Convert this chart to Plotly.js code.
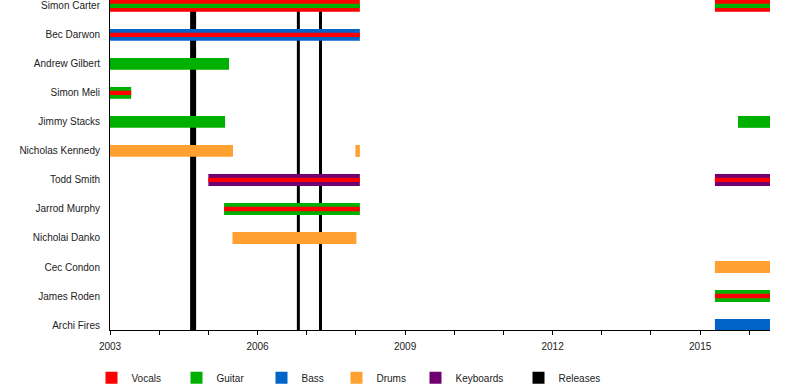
<!DOCTYPE html>
<html>
<head>
<meta charset="utf-8">
<script src="https://cdn.plot.ly/plotly-3.0.1.min.js"></script>
<style>html,body{margin:0;padding:0;background:#fff;}#chart{width:800px;height:390px;}</style>
</head>
<body>
<div id="chart"></div>
<script>
// Members, top to bottom
const members = ["Simon Carter", "Bec Darwon", "Andrew Gilbert", "Simon Meli", "Jimmy Stacks",
  "Nicholas Kennedy", "Todd Smith", "Jarrod Murphy", "Nicholai Danko", "Cec Condon",
  "James Roden", "Archi Fires"];

// Stints (decimal years)
const stintMember = ["Simon Carter", "Simon Carter", "Bec Darwon", "Andrew Gilbert", "Simon Meli",
  "Jimmy Stacks", "Jimmy Stacks", "Nicholas Kennedy", "Nicholas Kennedy", "Todd Smith", "Todd Smith",
  "Jarrod Murphy", "Nicholai Danko", "Cec Condon", "James Roden", "Archi Fires"];
const stintStart = [2003.0, 2015.3, 2003.0, 2003.0, 2003.0, 2003.0, 2015.77, 2003.0, 2007.99,
  2005.0, 2015.3, 2005.32, 2005.49, 2015.3, 2015.3, 2015.3];
const stintEnd = [2008.08, 2016.42, 2008.08, 2005.42, 2003.43, 2005.34, 2016.42, 2005.5, 2008.08,
  2008.08, 2016.42, 2008.08, 2008.01, 2016.42, 2016.42, 2016.42];
const stintMain = ["Vocals", "Vocals", "Bass", "Guitar", "Guitar", "Guitar", "Guitar", "Drums", "Drums",
  "Keyboards", "Keyboards", "Guitar", "Drums", "Drums", "Guitar", "Bass"];
const stintStripe = ["Guitar", "Guitar", "Vocals", null, "Vocals", null, null, null, null,
  "Vocals", "Vocals", "Vocals", null, null, "Vocals", null];

// Roles and colours
const roles = ["Vocals", "Guitar", "Bass", "Drums", "Keyboards"];
const roleColors = ["#FF0000", "#00B000", "#0064C8", "#FFA030", "#700070"];

// Release dates
const releases = [2004.69, 2006.83, 2007.28];
const releaseWidths = [6, 3, 3];

const xStart = 2003, xEnd = 2016.42;

// legend item left edges (pixels) – layout only
const legendLeftPx = [91.5, 176.5, 261.5, 336.5, 415.5, 518.5];
const plotLeft = 110, plotWidth = 660;
const legendKey = i => (i === 0 ? 'legend' : 'legend' + (i + 1));

const traces = [];
// outer bars
roles.forEach((r, ri) => {
  const y = [], base = [], x = [];
  stintMember.forEach((m, i) => {
    if (stintMain[i] === r) { y.push(m); base.push(stintStart[i]); x.push(stintEnd[i] - stintStart[i]); }
  });
  if (y.length === 0) { y.push(null); base.push(null); x.push(null); }
  traces.push({type: 'bar', orientation: 'h', y: y, x: x, base: base, width: 0.41,
    name: r, legendgroup: r, legend: legendKey(ri),
    marker: {color: roleColors[ri], line: {width: 0}}, hoverinfo: 'skip'});
});
// stripes
roles.forEach((r, ri) => {
  const y = [], base = [], x = [];
  stintMember.forEach((m, i) => {
    if (stintStripe[i] === r) { y.push(m); base.push(stintStart[i]); x.push(stintEnd[i] - stintStart[i]); }
  });
  if (y.length) {
    traces.push({type: 'bar', orientation: 'h', y: y, x: x, base: base, width: 0.15,
      name: r, legendgroup: r, showlegend: false,
      marker: {color: roleColors[ri], line: {width: 0}}, hoverinfo: 'skip'});
  }
});
// Releases legend entry
traces.push({type: 'bar', orientation: 'h', y: [null], x: [null], name: 'Releases', legend: legendKey(5),
  marker: {color: '#000000', line: {width: 0}}, showlegend: true});

const shapes = releases.map((d, i) => ({type: 'line', xref: 'x', yref: 'paper', x0: d, x1: d, y0: 0, y1: 1,
  line: {color: '#000000', width: releaseWidths[i]}, layer: 'below'}));

const layout = {
  width: 800, height: 390,
  margin: {l: 110, r: 30, t: 0, b: 60, autoexpand: false},
  paper_bgcolor: '#ffffff', plot_bgcolor: '#ffffff',
  font: {family: '"Liberation Sans", Arial, sans-serif', size: 10, color: '#222'},
  barmode: 'overlay',
  showlegend: true,
  xaxis: {range: [xStart, xEnd], tickmode: 'linear', tick0: 2003, dtick: 3, showgrid: false, zeroline: false,
    showline: true, linecolor: '#000', linewidth: 1, ticks: 'outside', ticklen: 4, tickcolor: '#000',
    ticklabelstandoff: 3,
    minor: {tickmode: 'linear', tick0: 2003, dtick: 1, ticks: 'outside', ticklen: 4, tickcolor: '#000', showgrid: false},
    fixedrange: true},
  yaxis: {type: 'category', categoryorder: 'array', categoryarray: members.slice().reverse(),
    range: [-0.17, 11.2], showgrid: false, zeroline: false, showline: true, linecolor: '#000', linewidth: 1,
    ticks: '', ticklabelstandoff: 7, fixedrange: true},
  shapes: shapes
};
legendLeftPx.forEach((px, i) => {
  layout[legendKey(i)] = {orientation: 'h', x: (px - plotLeft) / plotWidth, xanchor: 'left',
    y: -0.145, yanchor: 'middle', itemclick: false, font: {size: 10, color: '#222'},
    bgcolor: 'rgba(0,0,0,0)'};
});

Plotly.newPlot('chart', traces, layout, {displayModeBar: false, staticPlot: true});
</script>
</body>
</html>
